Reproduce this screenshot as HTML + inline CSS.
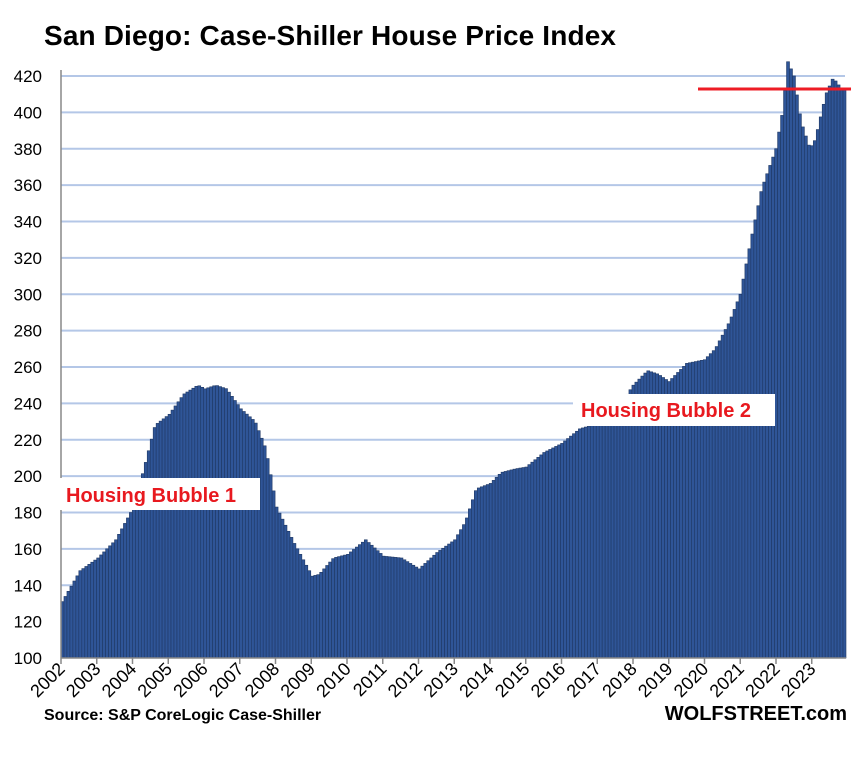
<!DOCTYPE html>
<html><head><style>body{margin:0;background:#fff}</style></head><body>
<svg id="s" width="851" height="755" xmlns="http://www.w3.org/2000/svg" font-family="Liberation Sans, sans-serif">
<rect width="851" height="755" fill="#fff"/>
<text x="44" y="45" font-size="28" font-weight="bold" fill="#000" textLength="572">San Diego: Case-Shiller House Price Index</text>
<g id="grid"></g>
<g id="bars"></g>
<g id="axes"></g>
<rect x="58" y="478" width="202" height="32" fill="#fff"/>
<text x="66" y="502" font-size="20" font-weight="bold" fill="#e8191f">Housing Bubble 1</text>
<rect x="573" y="394" width="202" height="32" fill="#fff"/>
<text x="581" y="417" font-size="20" font-weight="bold" fill="#e8191f">Housing Bubble 2</text>
<line x1="698" y1="89" x2="851" y2="89" stroke="#ee1c25" stroke-width="3"/>
<text x="44" y="720" font-size="16" font-weight="bold">Source: S&amp;P CoreLogic Case-Shiller</text>
<text x="847" y="720" font-size="20" font-weight="bold" text-anchor="end">WOLFSTREET.com</text>
</svg>
<script>
const NS="http://www.w3.org/2000/svg";
function el(p,t,a,txt){const e=document.createElementNS(NS,t);for(const k in a)e.setAttribute(k,a[k]);if(txt!=null)e.textContent=txt;document.getElementById(p).appendChild(e);}
const y0=658,py=(658-76)/320;const Y=v=>y0-(v-100)*py;
const x0=61,px=35.75;
for(let v=120;v<=420;v+=20)el('grid','line',{x1:61,x2:845,y1:Y(v),y2:Y(v),stroke:'#b4c7e7','stroke-width':2});
for(let v=100;v<=420;v+=20)el('axes','text',{x:42,y:Y(v)+6,'font-size':17,'text-anchor':'end'},v);
el('axes','line',{x1:61,x2:61,y1:70,y2:658,stroke:'#888','stroke-width':1.5});
el('axes','line',{x1:61,x2:846,y1:658,y2:658,stroke:'#888','stroke-width':1.5});
for(let i=0;i<22;i++){const x=x0+i*px;el('axes','line',{x1:x,x2:x,y1:658,y2:664,stroke:'#888','stroke-width':1.5});
el('axes','text',{x:x+5,y:670,'font-size':18,'text-anchor':'end',transform:`rotate(-45 ${x+5} 670)`},2002+i);}
const P=[[2002,131],[2002.5,148],[2003,155],[2003.5,165],[2004,183],[2004.3,205],[2004.6,228],[2005,234],[2005.4,245],[2005.8,250],[2006,248],[2006.3,250],[2006.6,248],[2007,237],[2007.4,230],[2007.7,215],[2008,183],[2008.5,163],[2009,145],[2009.2,146],[2009.6,155],[2010,157],[2010.5,165],[2011,156],[2011.5,155],[2012,149],[2012.5,158],[2013,165],[2013.3,175],[2013.6,193],[2014,196],[2014.3,202],[2014.7,204],[2015,205],[2015.5,213],[2016,218],[2016.5,226],[2017,229],[2017.5,235],[2018,250],[2018.4,258],[2018.7,256],[2019,252],[2019.5,262],[2020,264],[2020.3,270],[2020.7,285],[2021,300],[2021.3,330],[2021.6,358],[2022,380],[2022.2,402],[2022.33,428],[2022.5,420],[2022.7,395],[2022.95,380],[2023.1,385],[2023.4,410],[2023.6,419],[2023.83,413]];
function val(t){for(let i=0;i<P.length-1;i++)if(t<=P[i+1][0]){const f=(t-P[i][0])/(P[i+1][0]-P[i][0]);return P[i][1]+f*(P[i+1][1]-P[i][1]);}return P[P.length-1][1];}
const n=264,w=(846-61)/n;
for(let i=0;i<n;i++){const t=2002+i/12;const v=val(t);const x=61+i*w;
el('bars','rect',{x:x,y:Y(v),width:w,height:y0-Y(v),fill:'#2f5597',stroke:'#1f3864','stroke-width':0.6});}
</script>
</body></html>
